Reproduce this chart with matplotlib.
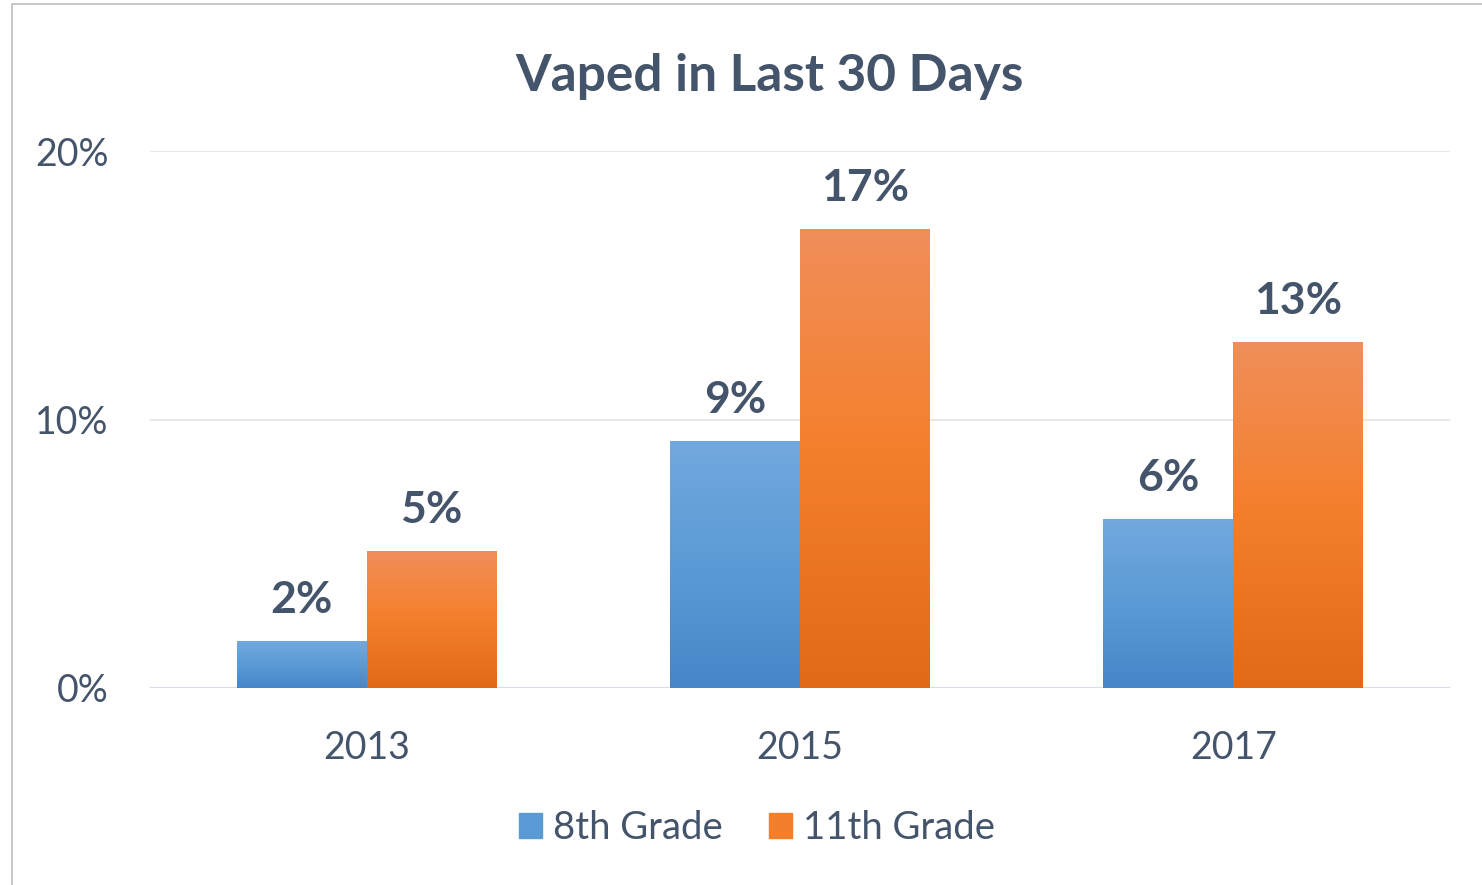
import matplotlib
matplotlib.use("Agg")
import matplotlib.pyplot as plt
from matplotlib.colors import LinearSegmentedColormap
from matplotlib.patches import Rectangle
import numpy as np

plt.rcParams['font.family'] = ['Lato', 'DejaVu Sans']

years = ["2013", "2015", "2017"]
grade8 = [1.75, 9.2, 6.3]
grade11 = [5.1, 17.1, 12.9]
labels8 = ["2%", "9%", "6%"]
labels11 = ["5%", "17%", "13%"]
series = ["8th Grade", "11th Grade"]

text_color = "#44546a"
blue_cmap = LinearSegmentedColormap.from_list("b", ["#4686c8", "#5b9bd5", "#72a9de"])
orange_cmap = LinearSegmentedColormap.from_list("o", ["#e06a17", "#f47f2a", "#f08f5a"])

fig = plt.figure(figsize=(14.82, 8.85), dpi=100)
fig.patches.append(Rectangle((12 / 1482, -0.05), 1.2, 0.05 + (885 - 4) / 885,
                             transform=fig.transFigure, fill=False,
                             edgecolor="#bfbfbf", linewidth=1.2))
ax = fig.add_axes([150 / 1482, 197 / 885, 1300 / 1482, (734 - 197) / 885])

x = np.arange(len(years))
w = 0.3


def gradient_bars(xs, vals, cmap):
    bars = ax.bar(xs, vals, w, color="none", edgecolor="none")
    grad = np.linspace(0, 1, 256).reshape(-1, 1)
    for b in bars:
        x0, y0 = b.get_x(), b.get_y()
        im = ax.imshow(grad, cmap=cmap, origin="lower", aspect="auto",
                       extent=[x0, x0 + b.get_width(), y0, y0 + b.get_height()],
                       zorder=2)
        im.set_clip_path(b)
    return bars


b8 = gradient_bars(x - w / 2, grade8, blue_cmap)
b11 = gradient_bars(x + w / 2, grade11, orange_cmap)
ax.set_xlim(-0.5, 2.5)
ax.set_ylim(0, 20)
ax.set_aspect("auto")

for xs, vals, labs in [(x - w / 2, grade8, labels8), (x + w / 2, grade11, labels11)]:
    for xi, v, lab in zip(xs, vals, labs):
        ax.annotate(lab, (xi, v), xytext=(0, 15), textcoords="offset points",
                    ha="center", va="bottom", fontsize=32, fontweight="bold",
                    color=text_color)

ax.set_yticks([0, 10, 20])
ax.set_yticklabels(["0%", "10%", "20%"])
ax.set_xticks(x)
ax.set_xticklabels(years)
ax.tick_params(axis="both", length=0, labelsize=27, labelcolor=text_color)
ax.tick_params(axis="y", pad=30)
ax.tick_params(axis="x", pad=30)
for s in ax.spines.values():
    s.set_visible(False)
ax.grid(axis="y", color="#e4e4e4", linewidth=1.2, zorder=0)
ax.axhline(0, color="#d9dde6", linewidth=1.5, zorder=1)
ax.set_axisbelow(True)

fig.text(769 / 1482, 1 - 77 / 885, "Vaped in Last 30 Days", ha="center", va="center",
         fontsize=37, fontweight="bold", color=text_color)

handles = [Rectangle((0, 0), 1, 1, color="#5b9bd5"), Rectangle((0, 0), 1, 1, color="#f47f2a")]
fig.legend(handles, series, loc="center", bbox_to_anchor=(757 / 1482, 1 - 828 / 885),
           ncol=2, frameon=False, fontsize=27.5, labelcolor=text_color,
           handlelength=0.6, handleheight=0.6, handletextpad=0.3, columnspacing=1.2)

fig.savefig("out.png", dpi=100, facecolor="white")
